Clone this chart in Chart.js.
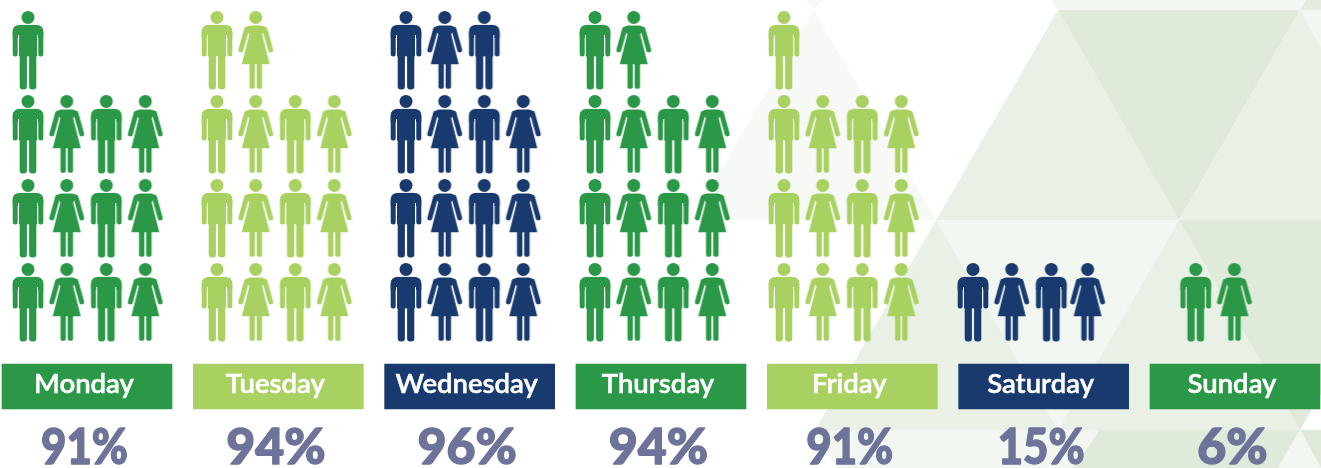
<!DOCTYPE html>
<html>
<head>
<meta charset="utf-8">
<style>html,body{margin:0;padding:0;background:#fff;overflow:hidden}canvas{display:block}</style>
<script src="https://cdn.jsdelivr.net/npm/chart.js@4/dist/chart.umd.min.js"></script>
</head>
<body>
<canvas id="c" width="1321" height="468"></canvas>
<script>
// --- data ---
const days = ['Monday','Tuesday','Wednesday','Thursday','Friday','Saturday','Sunday'];
const percents = [91,94,96,94,91,15,6];
const peopleIcons = [13,14,15,14,13,4,2];

// --- styles ---
const GREEN='#2a9847', LIME='#a9d161', NAVY='#183a6e', PCT='#6d7399';
const dayColors=[GREEN,LIME,NAVY,GREEN,LIME,NAVY,GREEN];
const DARK='#dfeadb', MID='#e9f1e6', LIGHT='#f2f7f1', FAINT='#f7f9f6';

// --- layout: one x unit = one day column, one y unit = one row of people ---
const PX_X=191.33, PX_Y=84, X0=87, Y0=302, W=1321, H=468;
const ux=p=>p/PX_X, uy=p=>p/PX_Y;
const groupStep=ux(189), firstCol=ux(-59), sundayShift=ux(33.7);
const colGap=[0,ux(38.7),ux(78.3),ux(117.3)];
const saturdayLastNudge=ux(-2.7);
const boxTop=uy(Y0-364), boxBottom=uy(Y0-409);

function figure(color,woman){
  const c=document.createElement('canvas');c.width=44;c.height=84;
  const g=c.getContext('2d');g.fillStyle=color;g.strokeStyle=color;g.translate(22,9.4);
  const rr=(x,y,w,h,r)=>{g.beginPath();g.roundRect(x,y,w,h,r);g.fill();};
  g.beginPath();g.arc(0,0,6.5,0,Math.PI*2);g.fill();
  if(!woman){
    rr(-15.3,7.5,30.6,13,[6,6,0,0]);
    rr(-15.3,14,5,25,[0,0,2.5,2.5]);
    rr(10.3,14,5,25,[0,0,2.5,2.5]);
    g.fillRect(-9.2,7.5,18.4,31.5);
    rr(-8.3,30,7.2,42,[0,0,3,3]);
    rr(1.1,30,7.2,42,[0,0,3,3]);
    g.clearRect(-10.3,18,1.1,21.5);
    g.clearRect(9.2,18,1.1,21.5);
  }else{
    g.lineWidth=5;g.lineCap='round';
    g.beginPath();g.moveTo(-9.2,12);g.lineTo(-14.9,32.5);g.stroke();
    g.beginPath();g.moveTo(9.2,12);g.lineTo(14.9,32.5);g.stroke();
    // thin slit between arm and dress
    g.save();g.globalCompositeOperation='destination-out';g.lineWidth=1.2;g.lineCap='butt';
    g.beginPath();g.moveTo(-6.6,17);g.lineTo(-13.6,47);g.stroke();
    g.beginPath();g.moveTo(6.6,17);g.lineTo(13.6,47);g.stroke();
    g.restore();
    g.beginPath();
    g.moveTo(-5,8);g.lineTo(5,8);g.quadraticCurveTo(9,8,10,11);g.lineTo(6.4,17);g.lineTo(14,46.8);
    g.lineTo(-14,46.8);g.lineTo(-6.4,17);g.lineTo(-10,11);g.quadraticCurveTo(-9,8,-5,8);g.closePath();g.fill();
    rr(-6.3,44,5.4,27.4,[0,0,2.6,2.6]);
    rr(0.9,44,5.4,27.4,[0,0,2.6,2.6]);
  }
  return c;
}
const icons=new Map();
function icon(color,woman){const k=color+woman;if(!icons.has(k))icons.set(k,figure(color,woman));return icons.get(k);}

function peoplePoints(day,count){
  const pts=[];
  for(let i=0;i<count;i++){
    const col=i%4,row=Math.floor(i/4);
    let x=firstCol+day*groupStep+colGap[col];
    if(day===6)x+=sundayShift;
    if(day===5&&col===3)x+=saturdayLastNudge;
    pts.push({x,y:row,woman:col%2===1});
  }
  return pts;
}
const peopleSets=days.map((d,i)=>({
  type:'scatter',label:d,data:peoplePoints(i,peopleIcons[i]),
  pointRadius:1,pointHoverRadius:1,
  pointStyle:ctx=>ctx.raw?icon(dayColors[i],ctx.raw.woman):'circle'
}));
const labelBoxes={
  type:'bar',label:'Day',data:days.map((d,i)=>({x:i,y:[boxBottom,boxTop]})),
  backgroundColor:dayColors,barThickness:170,borderWidth:0
};

const backdrop={id:'backdrop',beforeDraw(ch){
  const g=ch.ctx;
  const tri=(col,...p)=>{g.fillStyle=col;g.beginPath();g.moveTo(p[0],p[1]);
    for(let i=2;i<p.length;i+=2)g.lineTo(p[i],p[i+1]);g.closePath();g.fill();};
  g.save();
  tri(LIGHT,1052,0,1306,0,1300,10,1058,10);
  tri('#e3ecdf',1306,0,1321,0,1321,10,1300,10);
  tri(FAINT,806,0,822,0,814,10);
  tri(FAINT,692,220,814,10,936,220);
  tri(MID,936,220,1058,10,1179,220);
  tri(DARK,1058,10,1300,10,1179,220);
  tri(LIGHT,1300,10,1321,10,1321,47);
  tri(MID,1179,220,1300,10,1321,47,1321,220);
  tri(LIGHT,936,220,1179,220,1058,430);
  tri(MID,815,430,936,220,1058,430);
  tri(MID,1058,430,1179,220,1300,430);
  tri(DARK,1179,220,1321,220,1321,394,1300,430);
  tri(LIGHT,815,430,1100,430,1073,468,837,468);
  tri(DARK,1100,430,1300,430,1278,468,1073,468);
  tri(LIGHT,1300,430,1321,468,1278,468);
  tri(DARK,1300,430,1321,430,1321,468);
  g.restore();
}};
const texts={id:'texts',afterDatasetsDraw(ch){
  const g=ch.ctx,bars=ch.getDatasetMeta(0).data,ys=ch.scales.y;
  days.forEach((d,i)=>{
    const x=bars[i].x;
    g.save();g.textAlign='center';g.textBaseline='alphabetic';
    g.fillStyle='#fff';g.strokeStyle='#fff';g.lineWidth=0.5;g.font='600 27.5px Lato, sans-serif';
    g.fillText(d,x-3,ys.getPixelForValue(uy(Y0-393)));
    g.strokeText(d,x-3,ys.getPixelForValue(uy(Y0-393)));
    g.restore();
    const t=percents[i]+'%';
    g.save();g.textAlign='center';g.textBaseline='alphabetic';
    // the original's "1" is narrower than Lato's tabular figure
    g.translate(x-2.5,ys.getPixelForValue(uy(Y0-464)));g.scale(t.includes('1')?0.875:1,1);
    g.fillStyle=PCT;g.strokeStyle=PCT;g.lineWidth=1.4;g.lineJoin='round';
    g.font='900 50px Lato, sans-serif';
    g.fillText(t,0,0);g.strokeText(t,0,0);
    g.restore();
  });
}};

new Chart(document.getElementById('c'),{
  type:'bar',
  data:{datasets:[labelBoxes,...peopleSets]},
  plugins:[backdrop,texts],
  options:{
    responsive:false,animation:false,
    layout:{padding:0,autoPadding:false},
    plugins:{legend:{display:false},tooltip:{enabled:false}},
    events:[],
    scales:{
      x:{type:'linear',display:false,offset:false,min:ux(-X0),max:ux(W-X0)},
      y:{type:'linear',display:false,min:uy(Y0-H),max:uy(Y0),beginAtZero:false}
    }
  }
});
</script>
</body>
</html>
